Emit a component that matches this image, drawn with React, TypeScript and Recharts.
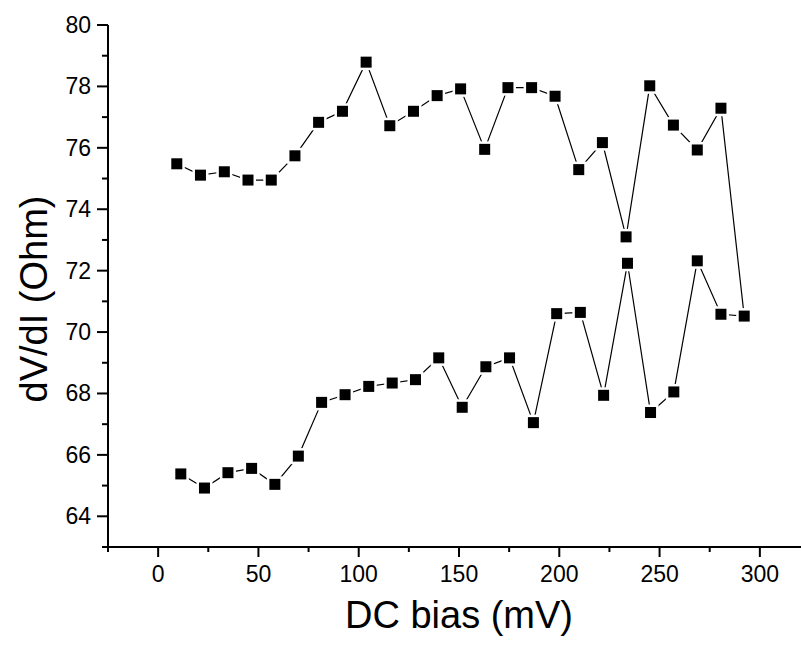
import { LineChart, Line, XAxis, YAxis } from 'recharts';

// forward sweep (lower branch)
const upBias = [11.3, 23.1, 34.8, 46.6, 58.2, 69.9, 81.5, 93.2, 105.0, 116.7, 128.3, 139.9, 151.6, 163.4, 175.2, 187.1, 198.7, 210.5, 222.1, 234.0, 245.5, 257.1, 268.8, 280.6, 292.2];
const upR = [65.38, 64.92, 65.42, 65.56, 65.04, 65.96, 67.71, 67.96, 68.23, 68.34, 68.45, 69.16, 67.55, 68.87, 69.16, 67.05, 70.6, 70.64, 67.94, 72.24, 67.38, 68.05, 72.32, 70.58, 70.52];

// return sweep (upper branch)
const downBias = [280.6, 268.8, 256.9, 245.1, 233.3, 221.5, 209.7, 197.9, 186.2, 174.4, 162.8, 150.8, 139.1, 127.3, 115.5, 103.7, 91.9, 80.0, 68.2, 56.4, 44.8, 33.0, 21.1, 9.3];
const downR = [77.29, 75.93, 76.74, 78.02, 73.1, 76.17, 75.29, 77.68, 77.96, 77.96, 75.95, 77.92, 77.7, 77.19, 76.72, 78.79, 77.19, 76.83, 75.74, 74.95, 74.95, 75.22, 75.11, 75.48];

const xTicks = [-25, 0, 25, 50, 75, 100, 125, 150, 175, 200, 225, 250, 275, 300, 325];
const yTicks = [63, 64, 65, 66, 67, 68, 69, 70, 71, 72, 73, 74, 75, 76, 77, 78, 79, 80];

const data = [
  ...upBias.map((b, i) => ({ bias: b, r: upR[i] })),
  ...downBias.map((b, i) => ({ bias: b, r: downR[i] })),
];

const FONT = '"Liberation Sans", Arial, sans-serif';

const XTick = (props: any) => {
  const { x, y, payload } = props;
  const v = payload.value;
  const major = v % 50 === 0;
  return (
    <g>
      <line x1={x} x2={x} y1={y} y2={y + (major ? 10 : 5)} stroke="#000" strokeWidth={2} />
      {major && (
        <text x={x} y={y + 35} textAnchor="middle" fontSize={23} fontFamily={FONT} fill="#000">
          {v}
        </text>
      )}
    </g>
  );
};

const YTick = (props: any) => {
  const { x, y, payload } = props;
  const v = payload.value;
  const major = v % 2 === 0;
  return (
    <g>
      <line x1={x} x2={x - (major ? 11 : 6)} y1={y} y2={y} stroke="#000" strokeWidth={2} />
      {major && (
        <text x={x - 17} y={y + 8} textAnchor="end" fontSize={23} fontFamily={FONT} fill="#000">
          {v}
        </text>
      )}
    </g>
  );
};

const SquareDot = (props: any) => {
  const { cx, cy, index } = props;
  return (
    <g key={index}>
      <rect x={cx - 8} y={cy - 8} width={16} height={16} fill="#fff" />
      <rect x={cx - 5.5} y={cy - 5.5} width={11} height={11} fill="#000" />
    </g>
  );
};

export default function App() {
  return (
    <div style={{ width: 801, height: 647, overflow: 'hidden', background: '#fff' }}>
      <style>{`body{margin:0;overflow:hidden}`}</style>
      <LineChart width={830} height={647} data={data} margin={{ top: 25, right: 20, left: 0, bottom: 0 }}>
        <XAxis
          dataKey="bias"
          type="number"
          domain={[-25, 325]}
          ticks={xTicks}
          interval={0}
          allowDataOverflow
          height={100}
          tickSize={0}
          tickMargin={0}
          tickLine={false}
          axisLine={{ stroke: '#000', strokeWidth: 2 }}
          tick={XTick}
          label={{
            content: () => (
              <text x={459} y={628} textAnchor="middle" fontSize={38} fontFamily={FONT} fill="#000">
                DC bias (mV)
              </text>
            ),
          }}
        />
        <YAxis
          dataKey="r"
          type="number"
          domain={[63, 80]}
          ticks={yTicks}
          interval={0}
          allowDataOverflow
          width={108}
          tickSize={0}
          tickMargin={0}
          tickLine={false}
          axisLine={{ stroke: '#000', strokeWidth: 2 }}
          tick={YTick}
          label={{
            content: () => (
              <text
                x={34}
                y={299}
                transform="rotate(-90, 34, 299)"
                textAnchor="middle"
                dominantBaseline="central"
                fontSize={38}
                fontFamily={FONT}
                fill="#000"
              >
                dV/dI (Ohm)
              </text>
            ),
          }}
        />
        <Line
          type="linear"
          dataKey="r"
          stroke="#000"
          strokeWidth={1.2}
          dot={SquareDot}
          activeDot={false}
          isAnimationActive={false}
        />
      </LineChart>
    </div>
  );
}
